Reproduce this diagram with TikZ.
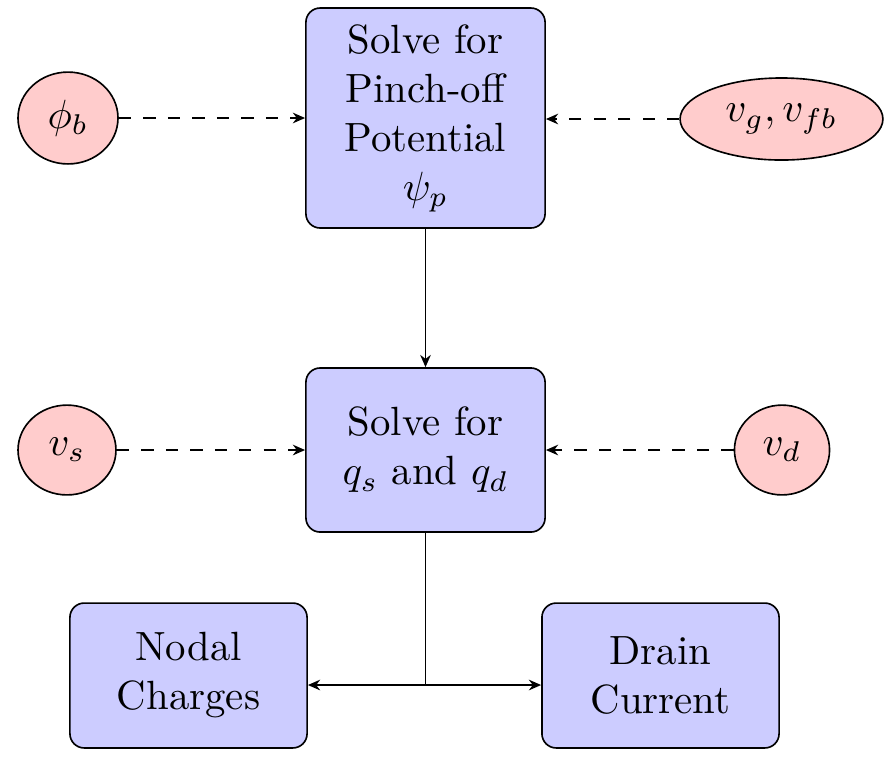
\documentclass[tikz,border=0pt]{standalone}
\usetikzlibrary{shapes.geometric,arrows.meta}
\begin{document}
\begin{tikzpicture}[x=0.245pt,y=-0.245pt,
  box/.style={draw, fill=blue!20, rounded corners=3.5pt, align=center, inner sep=0pt},
  inp/.style={draw, fill=red!20, ellipse, inner sep=0pt},
  arr/.style={-{Stealth[length=3pt,width=2.6pt]}},
  darr/.style={arr, dashed}]
\useasboundingbox (0,0) rectangle (885,769);
\node[box, minimum width=58.6pt, minimum height=53.9pt] (pinch) at (425.5,118) {Solve for\\Pinch-off\\Potential\\$\psi_p$};
\node[box, minimum width=58.6pt, minimum height=40.2pt] (solve) at (425.5,450) {Solve for\\$q_s$ and $q_d$};
\node[box, minimum width=58.1pt, minimum height=35.5pt] (nodal) at (188.5,675.5) {Nodal\\Charges};
\node[box, minimum width=58.1pt, minimum height=35.5pt] (drain) at (660.5,675.5) {Drain\\Current};
\node[inp, minimum width=24.5pt, minimum height=22.5pt] (phib) at (68,118) {$\phi_b$};
\node[inp, minimum width=49.7pt, minimum height=20.1pt] (vg) at (781.5,119) {$v_g, v_{fb}$};
\node[inp, minimum width=24pt, minimum height=22pt] (vs) at (67,450) {$v_s$};
\node[inp, minimum width=23.3pt, minimum height=22pt] (vd) at (782,450) {$v_d$};
\coordinate (split) at (425.5,685);
\draw[darr] (phib) -- (pinch);
\draw[darr] (vg) -- (pinch.east |- vg.west);
\draw[darr] (vs) -- (solve);
\draw[darr] (vd) -- (solve);
\draw[arr] (pinch) -- (solve);
\draw (solve.south) -- (split);
\draw[arr] (split) -- (nodal.east |- split);
\draw[arr] (split) -- (drain.west |- split);
\end{tikzpicture}
\end{document}
